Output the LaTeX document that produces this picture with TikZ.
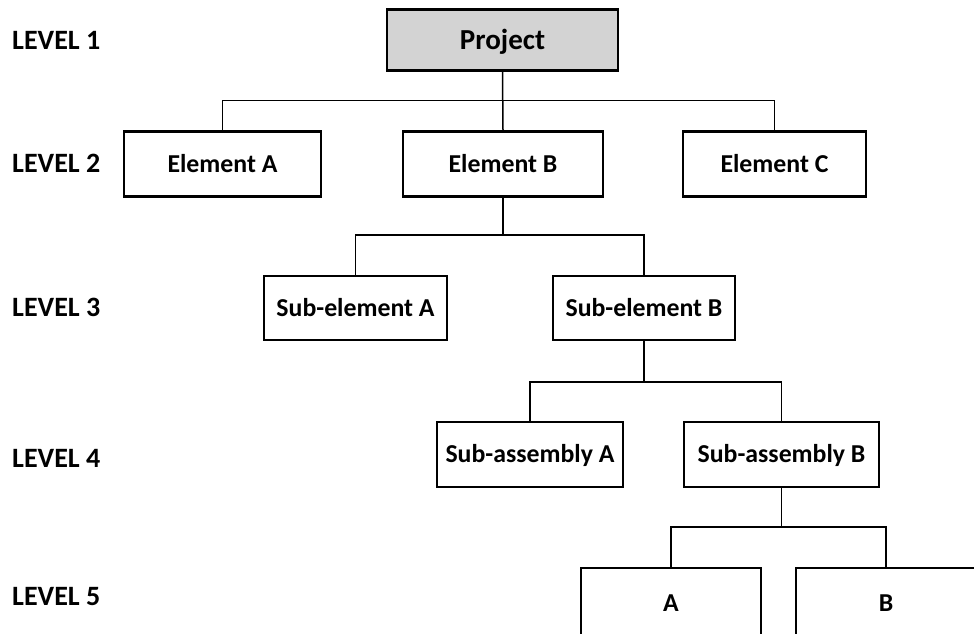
\documentclass[tikz,border=0pt]{standalone}
\usepackage{fontspec}
\setmainfont{Carlito}
\definecolor{rootgray}{HTML}{D3D3D3}
\begin{document}
\begin{tikzpicture}[x=1pt,y=-1pt,
  wbs/.style={draw=black, line width=2.6pt, rectangle, inner sep=0pt,
    minimum height=65pt, text height=16.3pt, text depth=0pt,
    font=\fontsize{25.8}{30}\selectfont\bfseries, fill=white},
  lvl/.style={anchor=west, inner sep=0pt, text height=17.6pt, text depth=0pt,
    font=\fontsize{28}{32}\selectfont\bfseries},
  link/.style={draw=black, line width=1.5pt}]
\useasboundingbox (0,0) rectangle (974,633);
\clip (0,0) rectangle (974,633);

% level captions
\node[lvl] (L1) at (12,41) {LEVEL 1};
\node[lvl] (L2) at (12,164) {LEVEL 2};
\node[lvl] (L3) at (12,308) {LEVEL 3};
\node[lvl] (L4) at (12,458.5) {LEVEL 4};
\node[lvl] (L5) at (12,597) {LEVEL 5};

% boxes
\node[wbs, fill=rootgray, minimum width=231pt, minimum height=61pt,
  text height=18.3pt, font=\fontsize{29}{32}\selectfont\bfseries] (P) at (502.5,40) {Project};
\node[wbs, minimum width=197pt] (EA) at (222.5,164) {Element A};
\node[wbs, minimum width=200pt] (EB) at (503,164) {Element B};
\node[wbs, minimum width=183pt] (EC) at (774.5,164) {Element C};
\node[wbs, minimum width=183pt, minimum height=64pt] (SA) at (355.5,308) {Sub-element A};
\node[wbs, minimum width=182pt, minimum height=64pt] (SB) at (644,308) {Sub-element B};
\node[wbs, minimum width=186pt] (AA) at (530,454.5) {Sub-assembly A};
\node[wbs, minimum width=195pt] (AB) at (781.5,454.5) {Sub-assembly B};
\node[wbs, minimum width=180pt, minimum height=70pt] (PA) at (671,603) {A};
\node[wbs, minimum width=180pt, minimum height=70pt] (PB) at (886,603) {B};

% bus lines
\coordinate (b1) at (0,100.5);
\coordinate (b2) at (0,235);
\coordinate (b3) at (0,382);
\coordinate (b4) at (0,527);

\path[link] (P.south) -- (EB.north);
\path[link] (EA.north) -- (EA.north |- b1) -- (EC.north |- b1) -- (EC.north);

\path[link] (EB.south) -- (EB.south |- b2);
\path[link] (SA.north) -- (SA.north |- b2) -- (SB.north |- b2) -- (SB.north);

\path[link] (SB.south) -- (SB.south |- b3);
\path[link] (AA.north) -- (AA.north |- b3) -- (AB.north |- b3) -- (AB.north);

\path[link] (AB.south) -- (AB.south |- b4);
\path[link] (PA.north) -- (PA.north |- b4) -- (PB.north |- b4) -- (PB.north);
\end{tikzpicture}
\end{document}
